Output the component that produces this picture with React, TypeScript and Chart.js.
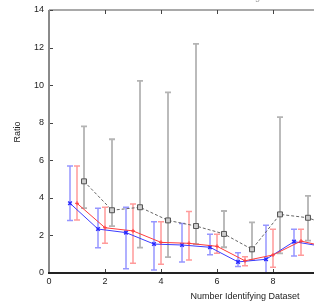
import { useEffect, useRef } from "react";
import { Chart, registerables } from "chart.js";
Chart.register(...registerables);

const FONT = "'Liberation Sans', Arial, Helvetica, sans-serif";

const titleText = "Ratio of Estimated to True Magnitude for Each Dataset";
const xTitle = "Number Identifying Dataset";
const yTitle = "Ratio";

const datasetIds = [1, 2, 3, 4, 5, 6, 7, 8, 9, 10];

const blueMean = [3.71, 2.34, 2.15, 1.54, 1.49, 1.37, 0.59, 0.73, 1.67, 1.42];
const blueLow = [2.8, 1.35, 0.23, 0.16, 0.59, 0.97, 0.34, 0.0, 0.9, 0.8];
const blueHigh = [5.69, 3.45, 3.5, 2.73, 2.64, 2.06, 1.08, 2.54, 2.33, 2.1];

const redMean = [3.71, 2.41, 2.24, 1.63, 1.58, 1.42, 0.65, 0.96, 1.7, 1.36];
const redLow = [2.82, 1.58, 0.52, 0.46, 0.69, 1.05, 0.39, 0.3, 0.94, 0.8];
const redHigh = [5.69, 3.5, 3.67, 2.73, 3.28, 2.06, 0.87, 2.33, 2.33, 2.0];

const grayMean = [4.88, 3.34, 3.5, 2.8, 2.5, 2.08, 1.26, 3.12, 2.94, 2.39];
const grayLow = [3.45, 2.5, 1.35, 0.84, 1.54, 1.37, 0.69, 1.05, 1.72, 1.4];
const grayHigh = [7.8, 7.12, 10.23, 9.62, 12.2, 3.3, 2.7, 8.3, 4.11, 3.6];

const blueOffset = -0.25;
const redOffset = 0;
const grayOffset = 0.25;

const xTicks = [0, 2, 4, 6, 8, 10, 12, 14];
const yTicks = [0, 2, 4, 6, 8, 10, 12, 14];

export default function App() {
  const ref = useRef<HTMLCanvasElement>(null);

  useEffect(() => {
    const canvas = ref.current!;
    const series = [
      { off: grayOffset, mean: grayMean, low: grayLow, high: grayHigh, color: "rgb(180,180,180)", width: 1.8 },
      { off: redOffset, mean: redMean, low: redLow, high: redHigh, color: "rgb(255,155,155)", width: 1.5 },
      { off: blueOffset, mean: blueMean, low: blueLow, high: blueHigh, color: "rgb(150,150,255)", width: 1.5 },
    ];

    const errorBars = {
      id: "errorBars",
      beforeDatasetsDraw(chart: any) {
        const { ctx, chartArea, scales } = chart;
        const xs = scales.x;
        const ys = scales.y;
        ctx.save();
        ctx.beginPath();
        ctx.rect(chartArea.left, chartArea.top - 2, chartArea.right - chartArea.left, chartArea.bottom - chartArea.top + 2);
        ctx.clip();
        series.forEach((s) => {
          ctx.strokeStyle = s.color;
          ctx.lineWidth = s.width;
          datasetIds.forEach((id, i) => {
            const px = xs.getPixelForValue(id + s.off);
            const yl = ys.getPixelForValue(s.low[i]);
            const yh = ys.getPixelForValue(s.high[i]);
            ctx.beginPath();
            ctx.moveTo(px, yl);
            ctx.lineTo(px, yh);
            ctx.moveTo(px - 3, yl);
            ctx.lineTo(px + 3, yl);
            ctx.moveTo(px - 3, yh);
            ctx.lineTo(px + 3, yh);
            ctx.stroke();
          });
        });
        ctx.restore();
      },
    };

    const frame = {
      id: "frame",
      afterDraw(chart: any) {
        const { ctx, chartArea, scales } = chart;
        const { left, right, top, bottom } = chartArea;
        ctx.save();
        // top border
        ctx.strokeStyle = "#555";
        ctx.lineWidth = 1.2;
        ctx.beginPath();
        ctx.moveTo(left, top);
        ctx.lineTo(right, top);
        ctx.stroke();
        // ticks
        ctx.strokeStyle = "#444";
        ctx.lineWidth = 1;
        xTicks.forEach((v) => {
          const px = Math.round(scales.x.getPixelForValue(v)) + 0.5;
          ctx.beginPath();
          ctx.moveTo(px, bottom);
          ctx.lineTo(px, bottom - 4);
          ctx.moveTo(px, top);
          ctx.lineTo(px, top + 4);
          ctx.stroke();
        });
        yTicks.forEach((v) => {
          const py = Math.round(scales.y.getPixelForValue(v)) + 0.5;
          ctx.beginPath();
          ctx.moveTo(left, py);
          ctx.lineTo(left + 4, py);
          ctx.stroke();
        });
        // left axis
        ctx.strokeStyle = "#8a8a8a";
        ctx.lineWidth = 2;
        ctx.beginPath();
        ctx.moveTo(left, top);
        ctx.lineTo(left, bottom + 1);
        ctx.stroke();
        // bottom axis
        ctx.strokeStyle = "#222";
        ctx.lineWidth = 2;
        ctx.beginPath();
        ctx.moveTo(left - 1, bottom);
        ctx.lineTo(right, bottom);
        ctx.stroke();
        // top title (mostly outside the visible window)
        ctx.fillStyle = "#999";
        ctx.font = `9px ${FONT}`;
        ctx.textAlign = "center";
        ctx.textBaseline = "alphabetic";
        ctx.fillText(titleText, (left + right) / 2, 14.3);
        // y-axis title
        ctx.fillStyle = "#222";
        ctx.translate(18, 146);
        ctx.rotate(-Math.PI / 2);
        ctx.textBaseline = "middle";
        ctx.fillText(yTitle, 0, 0);
        ctx.restore();
      },
    };

    const chart = new Chart(canvas, {
      type: "scatter",
      data: {
        datasets: [
          {
            label: "gray",
            data: datasetIds.map((id, i) => ({ x: id + grayOffset, y: grayMean[i] })),
            showLine: true,
            borderColor: "#666",
            borderWidth: 1,
            borderDash: [3, 2],
            pointStyle: "rect",
            pointRadius: 3.5,
            pointBackgroundColor: "#ccc",
            pointBorderColor: "#555",
            pointBorderWidth: 1,
          },
          {
            label: "red",
            data: datasetIds.map((id, i) => ({ x: id + redOffset, y: redMean[i] })),
            showLine: true,
            borderColor: "rgb(255,60,60)",
            borderWidth: 1,
            pointStyle: "cross",
            pointRadius: 2,
            pointBorderColor: "rgb(255,60,60)",
            pointBorderWidth: 1,
          },
          {
            label: "blue",
            data: datasetIds.map((id, i) => ({ x: id + blueOffset, y: blueMean[i] })),
            showLine: true,
            borderColor: "rgb(60,60,255)",
            borderWidth: 1,
            pointStyle: "crossRot",
            pointRadius: 2.5,
            pointBorderColor: "rgb(40,40,255)",
            pointBorderWidth: 1.5,
          },
        ],
      },
      options: {
        animation: false,
        responsive: false,
        events: [],
        layout: { padding: { top: 24, right: 49, left: 0, bottom: 0 } },
        plugins: { legend: { display: false }, tooltip: { enabled: false } },
        scales: {
          x: {
            type: "linear",
            min: 0,
            max: 14,
            afterFit: (s: any) => {
              s.height = 29;
            },
            grid: { display: false, drawTicks: false },
            border: { display: false },
            ticks: {
              stepSize: 2,
              padding: 3,
              color: "#222",
              font: { size: 9, family: FONT },
            },
            title: {
              display: true,
              text: xTitle,
              color: "#222",
              font: { size: 9, family: FONT },
              padding: 0,
            },
          },
          y: {
            type: "linear",
            min: 0,
            max: 14,
            afterFit: (s: any) => {
              s.width = 49;
            },
            grid: { display: false, drawTicks: false },
            border: { display: false },
            ticks: {
              stepSize: 2,
              padding: 5,
              color: "#222",
              font: { size: 9, family: FONT },
            },
            title: { display: false, text: yTitle },
          },
        },
      },
      plugins: [errorBars, frame],
    });
    return () => chart.destroy();
  }, []);

  return (
    <div
      style={{
        position: "fixed",
        left: 0,
        top: 0,
        width: 314,
        height: 302,
        overflow: "hidden",
        background: "#fff",
      }}
    >
      <canvas
        ref={ref}
        width={490}
        height={316}
        style={{ position: "absolute", left: 0, top: -14, width: 490, height: 316 }}
      />
    </div>
  );
}
